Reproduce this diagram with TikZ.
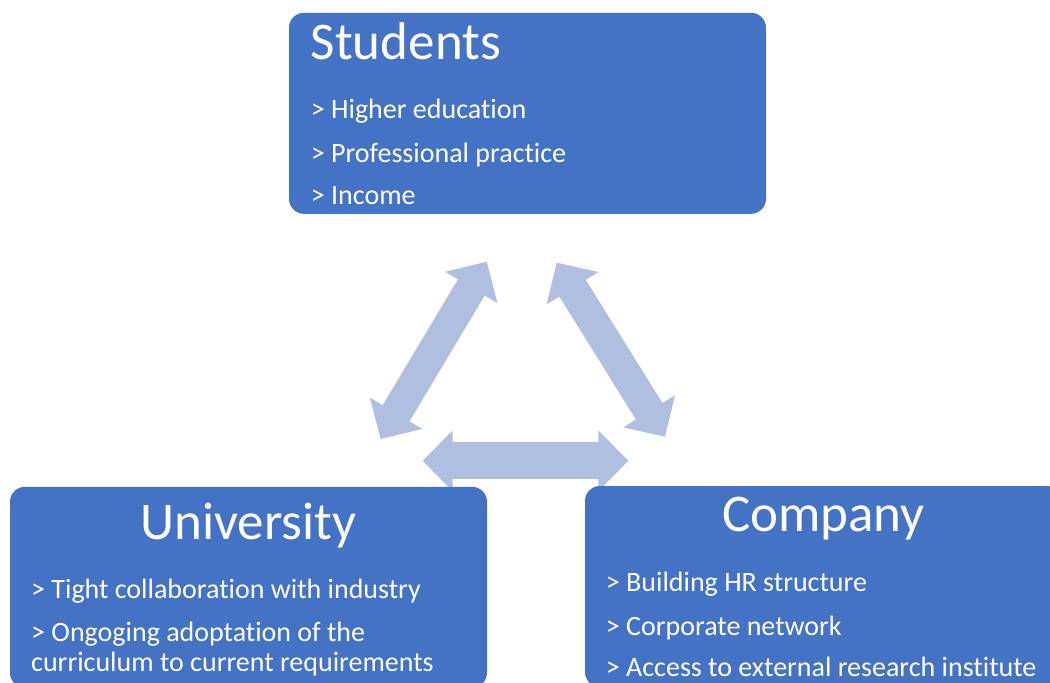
\documentclass[tikz,border=0pt]{standalone}
\usepackage{fontspec}
\setmainfont{Carlito}[RawFeature={-liga}]
\usetikzlibrary{arrows.meta}
\definecolor{boxBlue}{HTML}{4472C4}
\definecolor{linkFill}{HTML}{B0BEE0}
\newcommand{\titlesize}{\fontsize{53}{56}\selectfont}
\newcommand{\itemsize}{\fontsize{28}{30}\selectfont}

\begin{document}
\begin{tikzpicture}[x=1pt, y=-1pt,
  box/.style={fill=boxBlue, rounded corners=15pt, minimum width=477pt, minimum height=201pt, inner sep=0pt},
  ttl/.style={text=white, inner sep=0pt, font=\titlesize},
  itm/.style={text=white, inner sep=0pt, anchor=base west, font=\itemsize},
  link/.style={draw=linkFill, line width=#1, {Triangle[length=30pt, width=61pt, line width=0pt]}-{Triangle[length=30pt, width=61pt, line width=0pt]},
    postaction={draw=linkFill, line width=#1, arrows=-, shorten <=24pt, shorten >=24pt}}]
\useasboundingbox (0,0) rectangle (1050,683);
\clip (0,0) rectangle (1050,683);
% double arrows between the three parties (under the boxes)
\coordinate (suTop) at (486.7,261.7); \coordinate (suBot) at (380.7,439);
\coordinate (scTop) at (556.7,262.7); \coordinate (scBot) at (665,436.7);
\coordinate (ucL) at (422.7,460.8); \coordinate (ucR) at (628.3,460.8);
\draw[link=31pt] (suBot) -- (suTop);
\draw[link=31pt] (scBot) -- (scTop);
\draw[link=37pt] (ucL) -- (ucR);
% boxes
\node[box] (stud) at (527.5,113.3) {};
\node[box] (uni) at (248.5,587.3) {};
\node[box] (comp) at (823.5,586.5) {};
% students
\node[ttl, anchor=base west] (studT) at (310.7,59.3) {Students};
\node[itm] (stud1) at (310.7,118.3) {> Higher education};
\node[itm] (stud2) at (310.7,162.3) {> Professional practice};
\node[itm] (stud3) at (310.7,204) {> Income};
% university
\node[ttl, anchor=base] (uniT) at (248.5,539.3) {University};
\node[itm] (uni1) at (31,598.3) {> Tight collaboration with industry};
\node[itm] (uni2) at (31,641.7) {> Ongoging adoptation of the};
\node[itm] (uni2b) at (31,671.7) {curriculum to current requirements};
% company
\node[ttl, anchor=base] (compT) at (823.5,531.7) {Company};
\node[itm] (comp1) at (605.7,591.7) {> Building HR structure};
\node[itm] (comp2) at (605.7,635) {> Corporate network};
\node[itm] (comp3) at (605.7,676.7) {> Access to external research institute};
\end{tikzpicture}
\end{document}
